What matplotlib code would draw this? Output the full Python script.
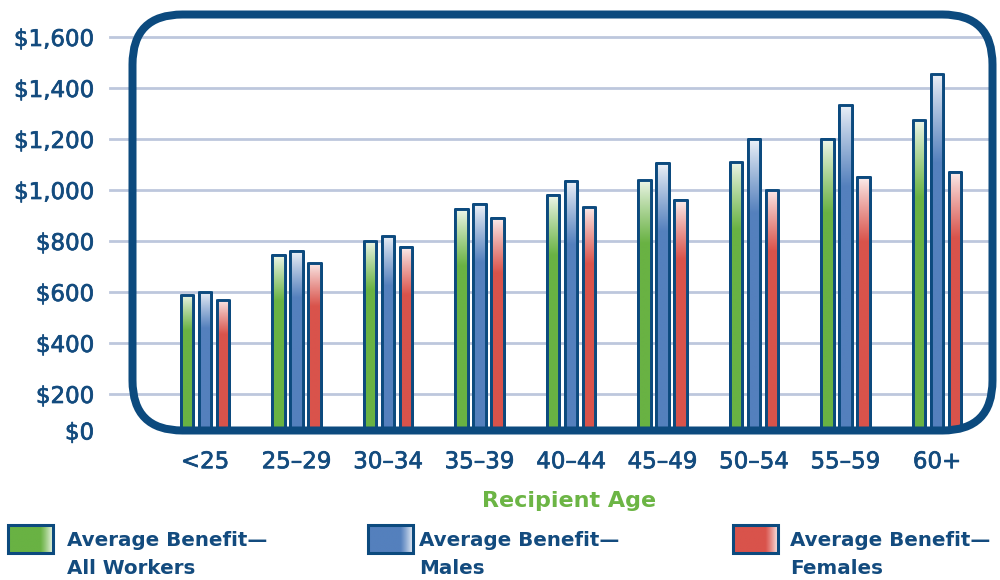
import numpy as np
import matplotlib
matplotlib.use('Agg')
import matplotlib.pyplot as plt
import matplotlib.patheffects as pe
from matplotlib.patches import FancyBboxPatch, Rectangle
from matplotlib.colors import to_rgb

# ---------------- data ----------------
ages = ['<25', '25–29', '30–34', '35–39', '40–44', '45–49', '50–54', '55–59', '60+']
all_workers = [590, 745, 800, 925, 980, 1040, 1110, 1200, 1275]
males = [600, 760, 820, 945, 1035, 1105, 1200, 1335, 1455]
females = [570, 715, 775, 890, 935, 960, 1000, 1050, 1070]
yticks = [200, 400, 600, 800, 1000, 1200, 1400, 1600]
ytick_labels = ['$200', '$400', '$600', '$800', '$1,000', '$1,200', '$1,400', '$1,600']
zero_label = '$0'
xlabel = 'Recipient Age'
legend_labels = ['Average Benefit—\nAll Workers', 'Average Benefit—\nMales',
                 'Average Benefit—\nFemales']

# ---------------- style ----------------
NAVY = '#0c4a7e'
TEXT = '#134b7e'
GRID = '#bdc7dd'
GREEN = '#69b243'
BLUE = '#5480bd'
RED = '#d9534b'
LABEL_GREEN = '#6cb545'
series = [all_workers, males, females]
colors = [GREEN, BLUE, RED]
thick = [pe.withStroke(linewidth=0.5, foreground=TEXT)]

W, H = 1000, 580
fig = plt.figure(figsize=(W / 100, H / 100), dpi=100)
fig.patch.set_facecolor('white')


def px_axes(l, t, r, b):
    return [l / W, 1 - b / H, (r - l) / W, (b - t) / H]


ax_l, ax_t, ax_r, ax_b = 137, 19, 990, 428
ax = fig.add_axes(px_axes(ax_l, ax_t, ax_r, ax_b))
zero_px = 445.0
ppu = 51.0 / 200.0
group_px = 91.5
c0 = 205.0
ymin = (zero_px - ax_b) / ppu
ymax = (zero_px - ax_t) / ppu
xmin = -(c0 - ax_l) / group_px
xmax = (ax_r - c0) / group_px

x = np.arange(len(ages))
offsets = [-0.197, 0.0, 0.197]
bw = 0.135


def vgrad(color, n=200, frac=0.24):
    c = np.array(to_rgb(color))
    w = np.array([1.0, 1.0, 1.0])
    t = np.linspace(0, 1, n)  # 0 = top
    mix = np.clip(t / frac, 0, 1) ** 0.9
    top_tint = 0.9
    a = (1 - mix) * top_tint
    arr = c[None, :] * (1 - a[:, None]) + w[None, :] * a[:, None]
    return arr[:, None, :]


for vals, off, col in zip(series, offsets, colors):
    bars = ax.bar(x + off, vals, width=bw, color=col, edgecolor=NAVY,
                  linewidth=2.1, zorder=2)
    for b in bars:
        b.set_joinstyle('round')
        x0 = b.get_x()
        h = b.get_height()
        im = ax.imshow(vgrad(col), extent=[x0, x0 + b.get_width(), 0, h],
                       aspect='auto', zorder=2.5, interpolation='bilinear')
        im.set_clip_path(b)
        im.set_clip_box(ax.bbox)
    top = ax.bar(x + off, vals, width=bw, facecolor='none', edgecolor=NAVY,
                 linewidth=2.1, zorder=3)
    for b in top:
        b.set_joinstyle('round')

ax.set_autoscale_on(False)
ax.set_xlim(xmin, xmax)
ax.set_ylim(ymin, ymax)

gx0 = (110 - ax_l) / (ax_r - ax_l)
for yv in yticks:
    ax.axhline(yv, xmin=gx0, xmax=1, color=GRID, lw=2.0, zorder=0, clip_on=False)

for s in ax.spines.values():
    s.set_visible(False)
ax.patch.set_alpha(0)
ax.set_yticks(yticks, ytick_labels)
ax.set_xticks(x, ages)
ax.tick_params(axis='y', length=0, pad=31, labelsize=16.5, labelcolor=TEXT)
ax.tick_params(axis='x', length=0, pad=16, labelsize=16.5, labelcolor=TEXT)
for lab in ax.get_xticklabels() + ax.get_yticklabels():
    lab.set_path_effects(thick)

# ---------------- overlay (frame, labels, legend) ----------------
ov = fig.add_axes([0, 0, 1, 1], zorder=5)
ov.set_xlim(0, W)
ov.set_ylim(H, 0)
ov.axis('off')
ov.patch.set_alpha(0)

frame = FancyBboxPatch((132.5, 14.5), 860, 416, boxstyle='round,pad=0,rounding_size=50',
                       fill=False, ec=NAVY, lw=8 * 0.72, joinstyle='round')
ov.add_patch(frame)

ov.text(94, 433, zero_label, ha='right', va='center', fontsize=16.5, color=TEXT,
        path_effects=thick)
ov.text(569, 501, xlabel, ha='center', va='center', fontsize=16,
        fontweight='bold', color=LABEL_GREEN)


def hgrad(color, n=100):
    c = np.array(to_rgb(color))
    t = np.linspace(0, 1, n)
    a = np.clip((t - 0.72) / 0.28, 0, 1) ** 1.2 * 0.85
    arr = c[None, :] * (1 - a[:, None]) + a[:, None]
    return arr[None, :, :]


swatch_x = [8, 368, 733]
text_x = [67, 419, 790]
for sx, tx, col, lab in zip(swatch_x, text_x, colors, legend_labels):
    ov.imshow(hgrad(col), extent=[sx, sx + 45, 553, 525], aspect='auto',
              zorder=1, interpolation='bilinear')
    ov.add_patch(Rectangle((sx, 525), 45, 28, fill=False, ec=NAVY, lw=2.2, zorder=2))
    ov.text(tx, 541, lab.split('\n')[0], ha='left', va='center', fontsize=14.3,
            fontweight='bold', color=TEXT)
    ov.text(tx, 568, lab.split('\n')[1], ha='left', va='center', fontsize=14.3,
            fontweight='bold', color=TEXT)
ov.set_xlim(0, W)
ov.set_ylim(H, 0)

fig.savefig('out.png', dpi=100, facecolor='white')
